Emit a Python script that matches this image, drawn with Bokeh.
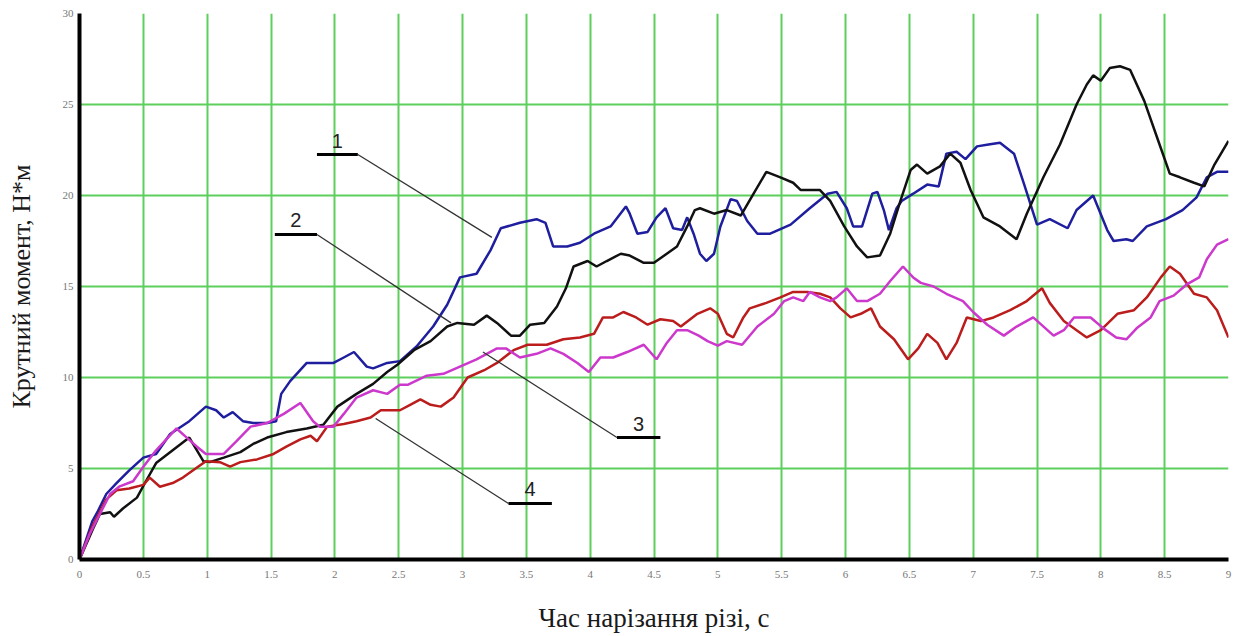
from bokeh.plotting import figure
from bokeh.models import FixedTicker, ColumnDataSource
from bokeh.embed import file_html
from bokeh.resources import INLINE
from bokeh.core.properties import value

# ---- data ----
x_ticks = [0, 0.5, 1, 1.5, 2, 2.5, 3, 3.5, 4, 4.5, 5, 5.5, 6, 6.5, 7, 7.5, 8, 8.5, 9]
x_tick_labels = ["0", "0.5", "1", "1.5", "2", "2.5", "3", "3.5", "4", "4.5", "5",
                 "5.5", "6", "6.5", "7", "7.5", "8", "8.5", "9"]
y_ticks = [0, 5, 10, 15, 20, 25, 30]
y_tick_labels = ["0", "5", "10", "15", "20", "25", "30"]

# curve 1 (blue)
t1 = [0, 0.10, 0.14, 0.21, 0.29, 0.39, 0.50, 0.60, 0.71, 0.86, 0.99, 1.07, 1.13, 1.20, 1.28,
      1.36, 1.47, 1.54, 1.58, 1.65, 1.78, 1.99, 2.07, 2.15, 2.25, 2.30, 2.41, 2.51, 2.64, 2.77,
      2.88, 2.98, 3.11, 3.22, 3.30, 3.45, 3.58, 3.65, 3.71, 3.82, 3.92, 4.03, 4.16, 4.28, 4.31,
      4.37, 4.45, 4.52, 4.59, 4.65, 4.72, 4.76, 4.81, 4.86, 4.91, 4.97, 5.02, 5.10, 5.15, 5.23,
      5.31, 5.41, 5.57, 5.72, 5.86, 5.93, 6.01, 6.06, 6.13, 6.21, 6.25, 6.30, 6.34, 6.40, 6.44,
      6.53, 6.64, 6.73, 6.79, 6.87, 6.94, 7.03, 7.12, 7.21, 7.32, 7.40, 7.50, 7.60, 7.74, 7.81,
      7.94, 8.05, 8.10, 8.20, 8.25, 8.36, 8.51, 8.64, 8.75, 8.83, 8.91, 9.0]
m1 = [0, 2.1, 2.6, 3.6, 4.2, 4.9, 5.6, 5.8, 6.9, 7.6, 8.4, 8.2, 7.8, 8.1, 7.6,
      7.5, 7.5, 7.6, 9.1, 9.8, 10.8, 10.8, 11.1, 11.4, 10.6, 10.5, 10.8, 10.9, 11.7, 12.8,
      14.0, 15.5, 15.7, 17.0, 18.2, 18.5, 18.7, 18.5, 17.2, 17.2, 17.4, 17.9, 18.3, 19.4, 19.0,
      17.9, 18.0, 18.8, 19.3, 18.2, 18.1, 18.8, 17.9, 16.8, 16.4, 16.8, 18.3, 19.8, 19.7, 18.6,
      17.9, 17.9, 18.4, 19.3, 20.1, 20.2, 19.3, 18.3, 18.3, 20.1, 20.2, 19.2, 18.1, 19.3, 19.7,
      20.1, 20.6, 20.5, 22.3, 22.4, 22.0, 22.7, 22.8, 22.9, 22.3, 20.6, 18.4, 18.7, 18.2, 19.2,
      20.0, 18.1, 17.5, 17.6, 17.5, 18.3, 18.7, 19.2, 19.9, 21.0, 21.3, 21.3]

# curve 2 (black)
t2 = [0, 0.10, 0.16, 0.24, 0.27, 0.34, 0.45, 0.52, 0.60, 0.73, 0.86, 0.97, 1.02, 1.13, 1.26,
      1.36, 1.47, 1.62, 1.78, 1.91, 2.02, 2.17, 2.30, 2.41, 2.49, 2.62, 2.75, 2.88, 2.96, 3.09,
      3.19, 3.27, 3.38, 3.45, 3.53, 3.64, 3.74, 3.81, 3.87, 3.98, 4.05, 4.13, 4.24, 4.31, 4.42,
      4.50, 4.60, 4.68, 4.76, 4.82, 4.86, 4.97, 5.07, 5.18, 5.28, 5.38, 5.49, 5.59, 5.65, 5.80,
      5.88, 5.99, 6.09, 6.17, 6.27, 6.35, 6.43, 6.51, 6.56, 6.64, 6.74, 6.82, 6.90, 6.98, 7.08,
      7.21, 7.34, 7.42, 7.55, 7.68, 7.81, 7.89, 7.94, 8.00, 8.07, 8.15, 8.23, 8.34, 8.44, 8.54,
      8.62, 8.73, 8.81, 8.89, 9.0]
m2 = [0, 1.6, 2.5, 2.6, 2.35, 2.8, 3.4, 4.3, 5.3, 6.0, 6.7, 5.4, 5.35, 5.6, 5.9,
      6.35, 6.7, 7.0, 7.2, 7.4, 8.4, 9.1, 9.65, 10.3, 10.7, 11.5, 12.0, 12.8, 13.0, 12.9,
      13.4, 13.0, 12.3, 12.3, 12.9, 13.0, 13.9, 14.9, 16.1, 16.4, 16.1, 16.4, 16.8, 16.7, 16.3,
      16.3, 16.8, 17.2, 18.3, 19.2, 19.3, 19.0, 19.2, 18.9, 20.1, 21.3, 21.0, 20.7, 20.3, 20.3,
      19.7, 18.3, 17.2, 16.6, 16.7, 17.9, 19.7, 21.4, 21.7, 21.2, 21.6, 22.3, 21.8, 20.3, 18.8,
      18.3, 17.6, 19.0, 21.0, 22.8, 25.0, 26.1, 26.6, 26.3, 27.0, 27.1, 26.9, 25.2, 23.2, 21.2,
      21.0, 20.7, 20.5, 21.7, 23.0]

# curve 3 (magenta)
t3 = [0, 0.08, 0.16, 0.24, 0.31, 0.42, 0.50, 0.60, 0.76, 0.84, 0.92, 0.99, 1.13, 1.23, 1.34,
      1.47, 1.60, 1.73, 1.83, 1.88, 1.99, 2.07, 2.17, 2.30, 2.41, 2.51, 2.57, 2.72, 2.85, 2.98,
      3.11, 3.27, 3.34, 3.45, 3.58, 3.69, 3.79, 3.90, 3.99, 4.08, 4.18, 4.29, 4.42, 4.52, 4.60,
      4.68, 4.76, 4.85, 4.92, 5.00, 5.07, 5.19, 5.31, 5.44, 5.52, 5.59, 5.67, 5.72, 5.80, 5.88,
      5.93, 6.01, 6.09, 6.17, 6.27, 6.35, 6.45, 6.53, 6.59, 6.69, 6.79, 6.92, 7.00, 7.11, 7.24,
      7.34, 7.47, 7.63, 7.71, 7.79, 7.92, 8.02, 8.12, 8.20, 8.28, 8.39, 8.46, 8.57, 8.67, 8.77,
      8.83, 8.91, 9.0]
m3 = [0, 1.4, 2.5, 3.6, 4.0, 4.3, 5.1, 6.0, 7.2, 6.7, 6.2, 5.8, 5.8, 6.5, 7.3,
      7.5, 8.0, 8.6, 7.6, 7.3, 7.3, 8.0, 8.9, 9.3, 9.1, 9.6, 9.6, 10.1, 10.2, 10.6,
      11.0, 11.6, 11.6, 11.1, 11.3, 11.6, 11.3, 10.8, 10.3, 11.1, 11.1, 11.4, 11.8, 11.0, 11.9,
      12.6, 12.6, 12.3, 12.0, 11.75, 12.0, 11.8, 12.8, 13.5, 14.2, 14.4, 14.2, 14.7, 14.4, 14.2,
      14.4, 14.9, 14.2, 14.2, 14.6, 15.3, 16.1, 15.5, 15.2, 15.0, 14.6, 14.2, 13.6, 12.9, 12.3,
      12.8, 13.3, 12.3, 12.6, 13.3, 13.3, 12.7, 12.2, 12.1, 12.7, 13.3, 14.2, 14.5, 15.1, 15.5,
      16.5, 17.3, 17.6]

# curve 4 (red)
t4 = [0, 0.10, 0.21, 0.29, 0.39, 0.50, 0.55, 0.63, 0.73, 0.81, 0.89, 0.99, 1.10, 1.18, 1.26,
      1.39, 1.52, 1.62, 1.73, 1.81, 1.86, 1.94, 2.07, 2.17, 2.28, 2.36, 2.51, 2.59, 2.67, 2.75,
      2.83, 2.93, 3.04, 3.17, 3.27, 3.40, 3.51, 3.66, 3.79, 3.92, 4.03, 4.10, 4.18, 4.26, 4.36,
      4.45, 4.55, 4.65, 4.71, 4.84, 4.94, 5.00, 5.07, 5.12, 5.20, 5.25, 5.38, 5.49, 5.59, 5.70,
      5.80, 5.88, 5.96, 6.04, 6.12, 6.20, 6.27, 6.38, 6.49, 6.57, 6.64, 6.72, 6.79, 6.87, 6.95,
      7.06, 7.16, 7.29, 7.42, 7.54, 7.60, 7.71, 7.81, 7.89, 8.00, 8.13, 8.26, 8.36, 8.47, 8.54,
      8.62, 8.73, 8.83, 8.91, 9.0]
m4 = [0, 1.8, 3.3, 3.8, 3.9, 4.1, 4.5, 4.0, 4.2, 4.5, 4.9, 5.4, 5.35, 5.1, 5.35,
      5.5, 5.8, 6.2, 6.6, 6.8, 6.5, 7.3, 7.45, 7.6, 7.8, 8.2, 8.2, 8.5, 8.8, 8.5,
      8.4, 8.9, 10.0, 10.4, 10.8, 11.5, 11.8, 11.8, 12.1, 12.2, 12.4, 13.3, 13.3, 13.6, 13.3,
      12.9, 13.2, 13.1, 12.8, 13.5, 13.8, 13.5, 12.4, 12.2, 13.3, 13.8, 14.1, 14.4, 14.7, 14.7,
      14.6, 14.4, 13.8, 13.3, 13.5, 13.8, 12.8, 12.1, 11.0, 11.6, 12.4, 11.9, 11.0, 11.9, 13.3,
      13.1, 13.3, 13.7, 14.2, 14.9, 14.1, 13.1, 12.6, 12.2, 12.6, 13.5, 13.7, 14.4, 15.5, 16.1,
      15.7, 14.6, 14.4, 13.7, 12.2]

# callouts: label, shelf start/end x, shelf y, target point on curve
callout_text = ["1", "2", "3", "4"]
shelf_x0 = [1.86, 1.53, 4.21, 3.36]
shelf_x1 = [2.18, 1.86, 4.55, 3.70]
shelf_y = [22.25, 17.86, 6.70, 3.08]
leader_from_x = [2.18, 1.86, 4.21, 3.36]
target_x = [3.23, 2.91, 3.16, 2.32]
target_y = [17.7, 13.0, 11.4, 7.75]

# ---- figure ----
p = figure(width=1234, height=636, output_backend="svg", toolbar_location=None,
           x_range=(0, 9), y_range=(0, 30),
           min_border_left=79, min_border_right=6, min_border_top=13, min_border_bottom=77)
p.outline_line_color = None
p.background_fill_color = "white"
p.border_fill_color = "white"

grid_col = "#5ccf5c"
p.xgrid.grid_line_color = grid_col
p.ygrid.grid_line_color = grid_col
p.xgrid.grid_line_width = 2
p.ygrid.grid_line_width = 2
p.xgrid.ticker = FixedTicker(ticks=x_ticks)
p.ygrid.ticker = FixedTicker(ticks=y_ticks)

p.xaxis.ticker = FixedTicker(ticks=x_ticks)
p.yaxis.ticker = FixedTicker(ticks=y_ticks)
p.xaxis.major_label_overrides = {t: l for t, l in zip(x_ticks, x_tick_labels)}
p.yaxis.major_label_overrides = {t: l for t, l in zip(y_ticks, y_tick_labels)}

for ax in (p.xaxis, p.yaxis):
    ax.axis_line_width = 4
    ax.axis_line_color = "black"
    ax.major_tick_line_color = None
    ax.minor_tick_line_color = None
    ax.major_tick_out = 0
    ax.major_tick_in = 0
    ax.major_label_text_font = "Liberation Serif"
    ax.major_label_text_font_size = "11px"
    ax.major_label_text_color = "#777777"
    ax.axis_label_text_font = "Liberation Serif"
    ax.axis_label_text_font_style = "normal"
    ax.axis_label_text_color = "#1a1a1a"

p.xaxis.axis_label_text_font_size = "27px"
p.yaxis.axis_label_text_font_size = "26px"
p.xaxis.major_label_standoff = 11
p.yaxis.major_label_standoff = 6
p.xaxis.axis_label = "Час нарізання різі, с"
p.yaxis.axis_label = "Крутний момент, Н*м"
p.xaxis.axis_label_standoff = 22
p.yaxis.axis_label_standoff = 24

# curves
p.line(t1, m1, line_color="#1e1e9e", line_width=2.5)
p.line(t2, m2, line_color="#111111", line_width=2.5)
p.line(t4, m4, line_color="#bb1c1c", line_width=2.5)
p.line(t3, m3, line_color="#cc38cc", line_width=2.5)

# callouts
src = ColumnDataSource(dict(x0=shelf_x0, x1=shelf_x1, y=shelf_y, fx=leader_from_x,
                            tx=target_x, ty=target_y, txt=callout_text,
                            lx=[(a + b) / 2 for a, b in zip(shelf_x0, shelf_x1)],
                            ly=[v + 0.77 for v in shelf_y]))
p.segment(x0="fx", y0="y", x1="tx", y1="ty", source=src, line_color="#333333", line_width=1.3)
p.segment(x0="x0", y0="y", x1="x1", y1="y", source=src, line_color="black", line_width=3)
p.text(x="lx", y="ly", text="txt", source=src, text_align="center", text_baseline="middle",
       text_font=value("Liberation Sans"), text_font_size="20px", text_color="#222222")

open("out.html", "w").write(file_html(p, INLINE))
